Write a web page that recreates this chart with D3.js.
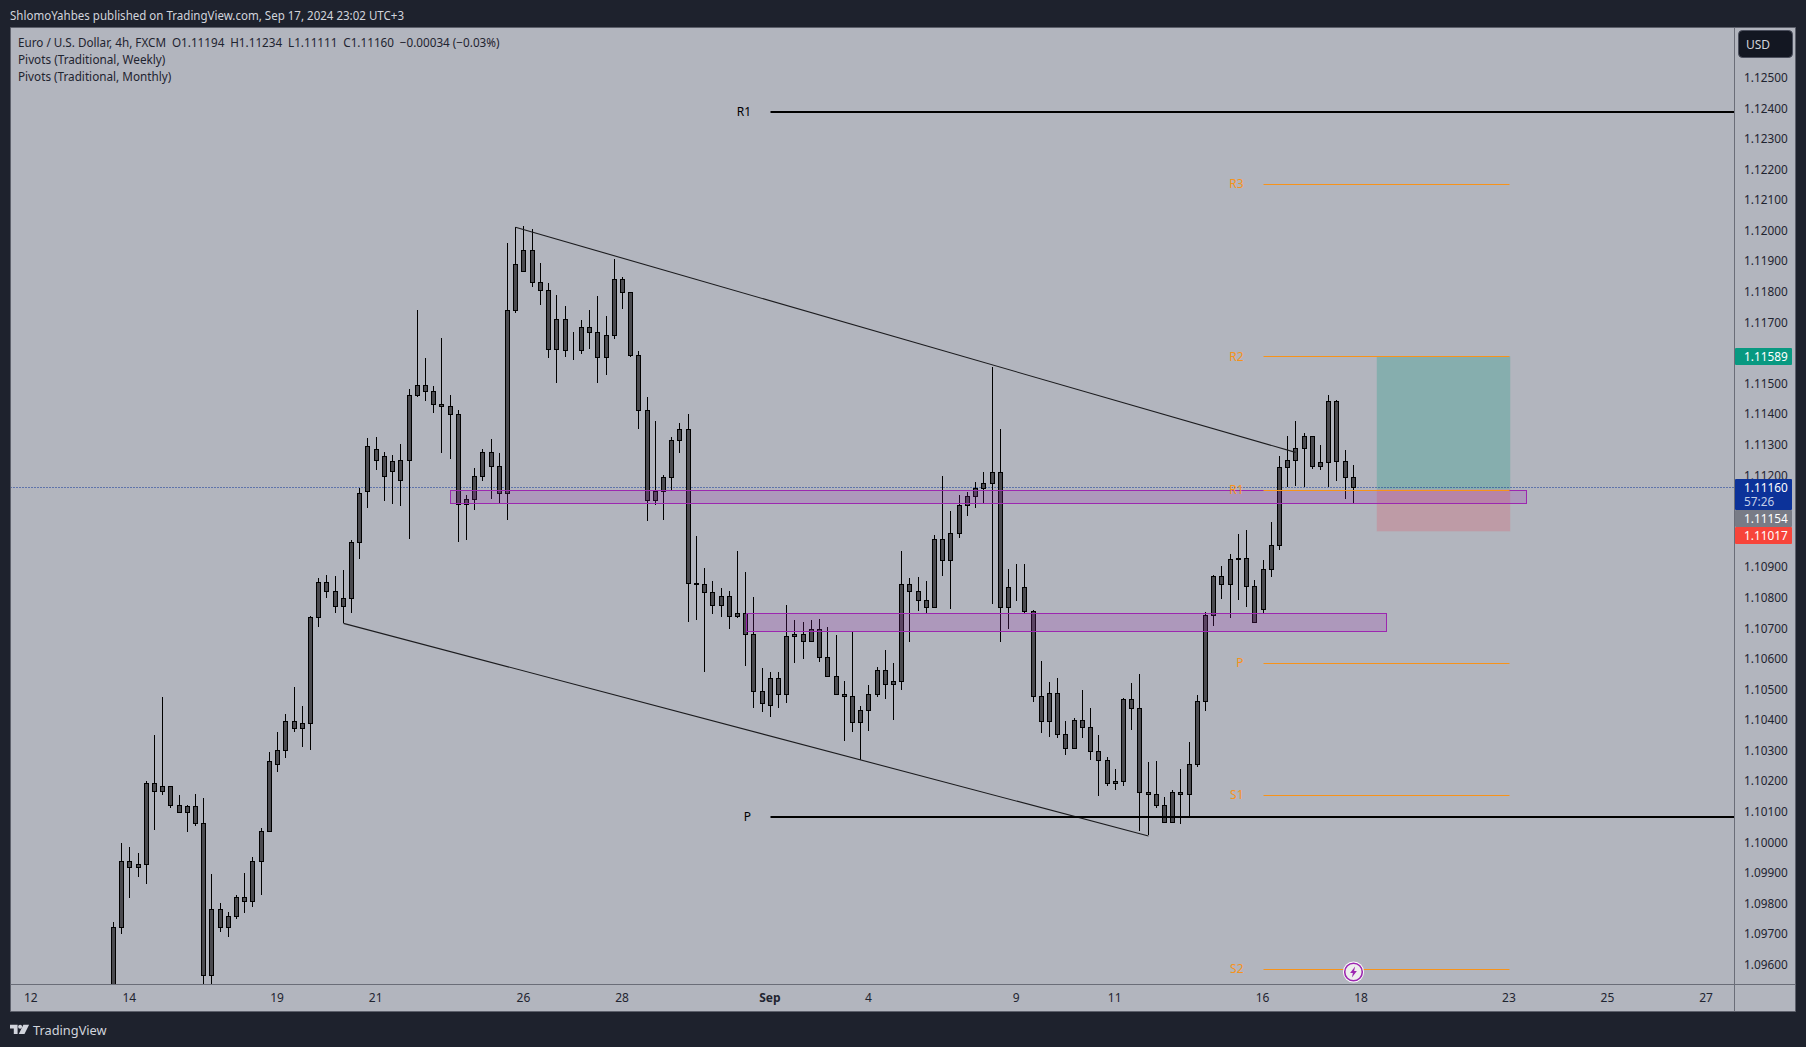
<!DOCTYPE html>
<html><head><meta charset="utf-8">
<script src="https://d3js.org/d3.v7.min.js"></script>
<style>
html,body{margin:0;padding:0;background:#1e222d;overflow:hidden}
svg{display:block}
text{font-family:"Noto Sans",sans-serif}
</style></head><body>
<svg id="c" width="1806" height="1047"></svg>
<script>
const firstBar = 10;
const high = [
1.09739,1.09997,1.09984,1.09965,1.10200,1.10350,1.10474,1.10183,1.10154,1.10121,
1.10157,1.10144,1.09896,1.09801,1.09771,1.09827,1.09899,1.09951,1.10046,1.10295,
1.10360,1.10419,1.10507,1.10445,1.10740,1.10863,1.10873,1.10870,1.10889,1.10988,
1.11159,1.11322,1.11325,1.11276,1.11267,1.11303,1.11483,1.11741,1.11583,1.11491,
1.11648,1.11462,1.11413,1.11135,1.11223,1.11285,1.11318,1.11272,1.11959,1.12011,
1.12015,1.12004,1.11893,1.11828,1.11789,1.11753,1.11668,1.11707,1.11740,1.11785,
1.11720,1.11906,1.11848,1.11799,1.11606,1.11455,1.11377,1.11200,1.11325,1.11370,
1.11399,1.11000,1.10896,1.10853,1.10830,1.10821,1.10951,1.10883,1.10801,1.10569,
1.10556,1.10556,1.10775,1.10726,1.10719,1.10726,1.10729,1.10703,1.10677,1.10526,
1.10690,1.10445,1.10513,1.10572,1.10628,1.10585,1.10951,1.10863,1.10866,1.10856,
1.11004,1.11197,1.11082,1.11135,1.11144,1.11177,1.11210,1.11553,1.11350,1.10893,
1.10909,1.10909,1.10759,1.10592,1.10524,1.10537,1.10396,1.10406,1.10498,1.10439,
1.10351,1.10279,1.10239,1.10472,1.10521,1.10550,1.10262,1.10266,1.10148,1.10171,
1.10239,1.10328,1.10481,1.10753,1.10873,1.10903,1.10942,1.11007,1.11021,1.10857,
1.10922,1.11047,1.11262,1.11328,1.11377,1.11338,1.11328,1.11298,1.11462,1.11446,
1.11282,1.11234];
const bodyTop = [
1.09722,1.09938,1.09938,1.09928,1.10193,1.10193,1.10183,1.10183,1.10121,1.10118,
1.10118,1.10062,1.09781,1.09781,1.09758,1.09821,1.09821,1.09938,1.10036,1.10265,
1.10301,1.10396,1.10396,1.10389,1.10736,1.10850,1.10850,1.10821,1.10798,1.10981,
1.11142,1.11293,1.11283,1.11263,1.11244,1.11250,1.11462,1.11495,1.11495,1.11475,
1.11432,1.11426,1.11400,1.11122,1.11197,1.11275,1.11275,1.11230,1.11740,1.11890,
1.11936,1.11936,1.11831,1.11805,1.11710,1.11710,1.11609,1.11684,1.11684,1.11668,
1.11658,1.11841,1.11841,1.11799,1.11593,1.11413,1.11148,1.11194,1.11315,1.11351,
1.11350,1.10847,1.10843,1.10817,1.10804,1.10804,1.10749,1.10749,1.10680,1.10494,
1.10536,1.10536,1.10673,1.10680,1.10680,1.10696,1.10696,1.10605,1.10543,1.10484,
1.10477,1.10431,1.10484,1.10562,1.10562,1.10526,1.10843,1.10843,1.10821,1.10791,
1.10991,1.10991,1.11010,1.11102,1.11131,1.11157,1.11174,1.11210,1.11210,1.10834,
1.10834,1.10834,1.10755,1.10478,1.10488,1.10488,1.10351,1.10400,1.10400,1.10377,
1.10298,1.10269,1.10200,1.10468,1.10468,1.10439,1.10164,1.10158,1.10122,1.10164,
1.10164,1.10253,1.10462,1.10743,1.10870,1.10870,1.10926,1.10929,1.10929,1.10837,
1.10893,1.10972,1.11227,1.11249,1.11289,1.11328,1.11328,1.11243,1.11442,1.11442,
1.11246,1.11194];
const bodyBottom = [
1.09450,1.09722,1.09919,1.09919,1.09928,1.10167,1.10167,1.10121,1.10098,1.10098,
1.10062,1.09566,1.09566,1.09722,1.09722,1.09758,1.09807,1.09807,1.09938,1.10036,
1.10255,1.10301,1.10373,1.10373,1.10389,1.10736,1.10821,1.10772,1.10772,1.10798,
1.10981,1.11146,1.11250,1.11195,1.11211,1.11184,1.11249,1.11462,1.11475,1.11432,
1.11426,1.11400,1.11105,1.11105,1.11122,1.11197,1.11230,1.11141,1.11141,1.11740,
1.11867,1.11831,1.11805,1.11612,1.11612,1.11609,1.11608,1.11609,1.11668,1.11586,
1.11586,1.11658,1.11799,1.11593,1.11413,1.11119,1.11119,1.11148,1.11194,1.11315,
1.10847,1.10843,1.10817,1.10775,1.10775,1.10739,1.10739,1.10680,1.10494,1.10454,
1.10448,1.10484,1.10484,1.10673,1.10657,1.10657,1.10605,1.10543,1.10484,1.10477,
1.10392,1.10392,1.10431,1.10484,1.10516,1.10516,1.10526,1.10821,1.10791,1.10768,
1.10768,1.10922,1.10922,1.11010,1.11102,1.11131,1.11157,1.11174,1.10768,1.10768,
1.10833,1.10755,1.10477,1.10396,1.10396,1.10351,1.10308,1.10308,1.10377,1.10298,
1.10269,1.10194,1.10194,1.10200,1.10439,1.10164,1.10158,1.10122,1.10066,1.10066,
1.10158,1.10158,1.10253,1.10462,1.10743,1.10844,1.10844,1.10926,1.10837,1.10720,
1.10762,1.10893,1.10972,1.11227,1.11249,1.11289,1.11230,1.11230,1.11243,1.11246,
1.11194,1.11160];
const low = [
1.09420,1.09702,1.09819,1.09888,1.09865,1.10042,1.10155,1.10111,1.10095,1.10035,
1.10055,1.09500,1.09500,1.09708,1.09689,1.09748,1.09770,1.09790,1.09829,1.10036,
1.10230,1.10277,1.10360,1.10313,1.10303,1.10705,1.10800,1.10751,1.10716,1.10751,
1.10928,1.11093,1.11218,1.11116,1.11106,1.11101,1.10993,1.11457,1.11444,1.11405,
1.11274,1.11252,1.10983,1.10990,1.11088,1.11183,1.11124,1.11111,1.11055,1.11732,
1.11867,1.11817,1.11758,1.11585,1.11501,1.11588,1.11576,1.11598,1.11614,1.11501,
1.11529,1.11647,1.11745,1.11586,1.11351,1.11052,1.11104,1.11055,1.11153,1.11274,
1.10721,1.10728,1.10558,1.10748,1.10738,1.10698,1.10734,1.10578,1.10440,1.10427,
1.10411,1.10440,1.10457,1.10587,1.10600,1.10656,1.10591,1.10542,1.10483,1.10332,
1.10362,1.10268,1.10365,1.10476,1.10470,1.10401,1.10499,1.10656,1.10757,1.10749,
1.10768,1.10872,1.10764,1.10996,1.11068,1.11094,1.11111,1.10780,1.10656,1.10699,
1.10790,1.10748,1.10458,1.10359,1.10343,1.10340,1.10284,1.10307,1.10340,1.10268,
1.10153,1.10183,1.10170,1.10183,1.10366,1.10036,1.10023,1.10111,1.10062,1.10065,
1.10059,1.10085,1.10248,1.10428,1.10707,1.10797,1.10732,1.10794,1.10771,1.10719,
1.10745,1.10869,1.10957,1.11161,1.11165,1.11163,1.11222,1.11219,1.11161,1.11180,
1.11121,1.11111];

const priceTicks = [1.096,1.097,1.098,1.099,1.100,1.101,1.102,1.103,1.104,1.105,1.106,1.107,1.108,1.109,1.112,1.113,1.114,1.115,1.117,1.118,1.119,1.120,1.121,1.122,1.123,1.124,1.125];
const dateTickBars = [0,12,30,42,60,72,90,102,120,132,150,162,180,192,204];
const dateTickLabels = ["12","14","19","21","26","28","Sep","4","9","11","16","18","23","25","27"];

const monthlyPivotNames = ["R1","P"];
const monthlyPivotPrices = [1.12388,1.10083];
const weeklyPivotNames = ["R3","R2","R1","P","S1","S2"];
const weeklyPivotPrices = [1.12152,1.11587,1.11152,1.10586,1.10154,1.09585];
const monthlyStartBar = 90;
const weeklyStartBar = 150, weeklyEndBar = 180;

const zoneBars = [[51,182],[87,165]];
const zonePrices = [[1.11151,1.11107],[1.10749,1.10690]];
const trendBars = [[59,154],[38,136]];
const trendPrices = [[1.12011,1.11275],[1.10716,1.10021]];
const positionBars = [163.85,180.1];
const targetPrice = 1.11589, entryPrice = 1.11154, stopPrice = 1.11017;
const lastPrice = 1.11160;

const PANE = {l:10.5,t:27.5,r:1734,b:984,R:1795.5,B:1011.5};
const svg = d3.select("#c");
const x = d3.scaleLinear().domain([0,204]).range([31.25,31.25+204*8.212]);
const y = d3.scaleLinear().domain([1.096,1.125]).range([964.7,77.7]);
const px = i => Math.floor(x(i))+0.5;
const py = p => Math.floor(y(p))+0.5;

svg.append("rect").attr("width",1806).attr("height",1047).attr("fill","#1e222d");
svg.append("rect").attr("x",PANE.l).attr("y",PANE.t).attr("width",PANE.R-PANE.l).attr("height",PANE.B-PANE.t).attr("fill","#b2b5be");
svg.append("clipPath").attr("id","pane").append("rect").attr("x",PANE.l).attr("y",PANE.t).attr("width",PANE.r-PANE.l).attr("height",PANE.b-PANE.t);
const g = svg.append("g").attr("clip-path","url(#pane)");

// position tool
g.append("rect").attr("x",x(positionBars[0])).attr("width",x(positionBars[1])-x(positionBars[0]))
 .attr("y",y(targetPrice)).attr("height",y(entryPrice)-y(targetPrice)).attr("fill","rgba(8,153,129,0.26)");
g.append("rect").attr("x",x(positionBars[0])).attr("width",x(positionBars[1])-x(positionBars[0]))
 .attr("y",y(entryPrice)).attr("height",y(stopPrice)-y(entryPrice)).attr("fill","rgba(242,54,69,0.2)");

// last price line
g.append("line").attr("x1",PANE.l).attr("x2",PANE.r).attr("y1",py(lastPrice)).attr("y2",py(lastPrice))
 .attr("stroke","#0c3299").attr("stroke-dasharray","1 2");

// candles
const bars = high.map((h,i)=>({i:i+firstBar,h,t:bodyTop[i],b:bodyBottom[i],l:low[i]}));
const cg = g.append("g");
cg.selectAll("line").data(bars).join("line")
 .attr("x1",d=>px(d.i)).attr("x2",d=>px(d.i)).attr("y1",d=>Math.round(y(d.h))).attr("y2",d=>Math.round(y(d.l)))
 .attr("stroke","#000").attr("stroke-width",1);
cg.selectAll("rect").data(bars).join("rect")
 .attr("x",d=>px(d.i)-2).attr("width",4)
 .attr("y",d=>py(d.t)).attr("height",d=>py(d.b)-py(d.t))
 .attr("fill","#4a4a4f").attr("stroke","#000").attr("stroke-width",1);

// trend lines
g.selectAll(".trend").data(trendBars).join("line").attr("class","trend")
 .attr("x1",d=>px(d[0])).attr("x2",d=>px(d[1]))
 .attr("y1",(d,i)=>y(trendPrices[i][0])).attr("y2",(d,i)=>y(trendPrices[i][1]))
 .attr("stroke","#1c1c1f").attr("stroke-width",1.1);

// zones
g.selectAll(".zone").data(zoneBars).join("rect").attr("class","zone")
 .attr("x",d=>Math.round(x(d[0]))+0.5).attr("width",d=>Math.round(x(d[1]))-Math.round(x(d[0])))
 .attr("y",(d,i)=>py(zonePrices[i][0])).attr("height",(d,i)=>py(zonePrices[i][1])-py(zonePrices[i][0]))
 .attr("fill","rgba(156,39,176,0.2)").attr("stroke","#9c27b0").attr("stroke-width",1);

// pivots
g.selectAll(".mp").data(monthlyPivotPrices).join("line").attr("class","mp")
 .attr("x1",px(monthlyStartBar)).attr("x2",PANE.r).attr("y1",d=>Math.round(y(d))).attr("y2",d=>Math.round(y(d)))
 .attr("stroke","#000").attr("stroke-width",2);
g.selectAll(".mpt").data(monthlyPivotPrices).join("text").attr("class","mpt")
 .attr("x",751).attr("y",d=>y(d)).attr("dy","0.35em").attr("text-anchor","end")
 .attr("font-size",12).attr("fill","#000").text((d,i)=>monthlyPivotNames[i]);
g.selectAll(".wp").data(weeklyPivotPrices).join("line").attr("class","wp")
 .attr("x1",px(weeklyStartBar)).attr("x2",px(weeklyEndBar)).attr("y1",d=>py(d)).attr("y2",d=>py(d))
 .attr("stroke","#f7931a").attr("stroke-width",1);
g.selectAll(".wpt").data(weeklyPivotPrices).join("text").attr("class","wpt")
 .attr("x",1243.5).attr("y",d=>y(d)).attr("dy","0.35em").attr("text-anchor","end")
 .attr("font-size",12).attr("fill","#f7931a").text((d,i)=>weeklyPivotNames[i]);

// bolt icon
const icon = g.append("g").attr("transform",`translate(${px(161)},${972})`);
icon.append("circle").attr("r",10.5).attr("fill","#fff");
icon.append("circle").attr("r",8.8).attr("fill","#eee").attr("stroke","#9c27b0").attr("stroke-width",1.6);
icon.append("path").attr("d","M1.6,-5.6 L-3.4,1 L-0.6,1 L-1.6,5.6 L3.4,-1 L0.6,-1 Z").attr("fill","#9c27b0");

// frame lines
const frame="#6a6d78";
svg.append("path").attr("d",`M${PANE.l},${PANE.t}H${PANE.R}V${PANE.B}H${PANE.l}Z`).attr("fill","none").attr("stroke","#5d606b");
svg.append("line").attr("x1",PANE.r+.5).attr("x2",PANE.r+.5).attr("y1",PANE.t).attr("y2",PANE.B).attr("stroke",frame);
svg.append("line").attr("x1",PANE.l).attr("x2",PANE.R).attr("y1",PANE.b+.5).attr("y2",PANE.b+.5).attr("stroke",frame);

// axes
const axY = svg.append("g").attr("transform","translate(1744,0)")
 .call(d3.axisRight(y).tickValues(priceTicks).tickFormat(d3.format(".5f")).tickSize(0).tickPadding(0));
axY.select(".domain").remove();
axY.selectAll("text").attr("font-size",11.8).attr("fill","#1f2430").style("font-family",'"Noto Sans",sans-serif');
const axX = svg.append("g").attr("transform","translate(-1,984)")
 .call(d3.axisBottom(x).tickValues(dateTickBars).tickFormat((d,i)=>dateTickLabels[i]).tickSize(0).tickPadding(0));
axX.select(".domain").remove();
axX.selectAll("text").attr("y",9).attr("font-size",12).attr("fill","#1f2430").style("font-family",'"Noto Sans",sans-serif')
 .attr("font-weight",d=>d===90?"700":"400");

// price labels
const tags = [
 {p:1.11589,y0:348,h:17,fill:"#089981",t:"1.11589"},
 {p:1.11160,y0:479,h:31,fill:"#0c3299",t:"1.11160",t2:"57:26"},
 {p:1.11154,y0:510,h:17,fill:"#787b86",t:"1.11154"},
 {p:1.11017,y0:527,h:17,fill:"#f7443a",t:"1.11017"}];
tags.forEach(d=>{
 svg.append("rect").attr("x",1735).attr("y",d.y0).attr("width",57).attr("height",d.h).attr("fill",d.fill).attr("rx",1);
 svg.append("text").attr("x",1744).attr("y",d.y0+12.6).attr("font-size",11.8).attr("fill","#fff").text(d.t);
 if(d.t2) svg.append("text").attr("x",1744).attr("y",d.y0+27).attr("font-size",11.8).attr("fill","#c3cfe8").text(d.t2);
});
svg.append("rect").attr("x",1738.5).attr("y",30.5).attr("width",54).attr("height",27).attr("rx",4).attr("fill","#131722").attr("stroke","#4a4e5c");
svg.append("text").attr("x",1746).attr("y",49).attr("font-size",12).attr("fill","#d1d4dc").text("USD");

// legend + header
const legend = ["Euro / U.S. Dollar, 4h, FXCM\u2002O1.11194\u2002H1.11234\u2002L1.11111\u2002C1.11160\u2002\u22120.00034 (\u22120.03%)","Pivots (Traditional, Weekly)","Pivots (Traditional, Monthly)"];
const legendWidths = [481.5,147.4,153.2];
svg.selectAll(".lg").data(legend).join("text").attr("class","lg").attr("x",18).attr("y",(d,i)=>47+i*17)
 .attr("font-size",12).attr("fill","#1f2430").attr("textLength",(d,i)=>legendWidths[i]).attr("lengthAdjust","spacingAndGlyphs").text(d=>d);
svg.append("text").attr("x",10).attr("y",20).attr("font-size",12).attr("fill","#d1d4dc")
 .attr("textLength",394).attr("lengthAdjust","spacingAndGlyphs")
 .text("ShlomoYahbes published on TradingView.com, Sep 17, 2024 23:02 UTC+3");
svg.append("path").attr("fill","#d1d4dc")
 .attr("d","M10,1024.7h7.6v9.3h-3.8v-5.5H10Z M23.4,1024.7h5.7l-4.6,9.3h-5.7Z");
svg.append("circle").attr("cx",20.1).attr("cy",1026.7).attr("r",2).attr("fill","#d1d4dc");
svg.append("text").attr("x",33).attr("y",1035).attr("font-size",12.8).attr("fill","#d1d4dc").text("TradingView");
</script></body></html>
